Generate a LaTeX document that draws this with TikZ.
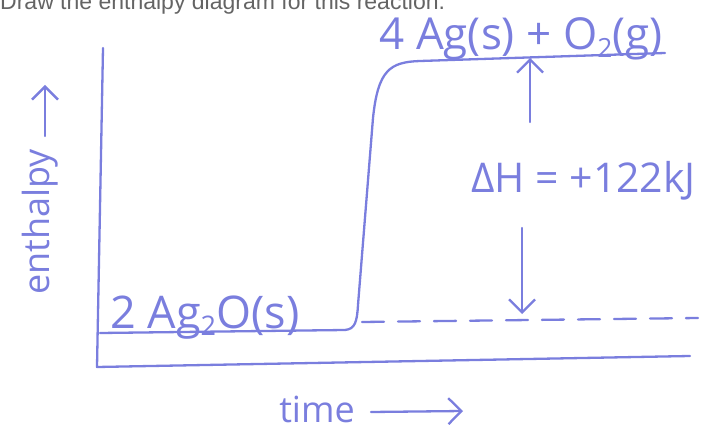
\documentclass[tikz,border=0pt]{standalone}
\usepackage{fontspec}
\setmainfont{Open Sans}
\newfontfamily\printfont{Liberation Sans}
\usetikzlibrary{positioning, arrows.meta}
\definecolor{penblue}{RGB}{122,126,222}
\definecolor{printgray}{RGB}{100,100,100}
\newcommand{\chemsub}[1]{\raisebox{-0.3ex}{\scalebox{0.6}{#1}}}

\begin{document}
\begin{tikzpicture}[x=1pt, y=-1pt,
  pen/.style={draw=penblue, line width=2.3pt, line cap=round, line join=round},
  arr/.style={pen, -{Straight Barb[length=13pt, width=26pt, line width=2.3pt]}},
  hand/.style={text=penblue, inner sep=0pt},
  levelgap/.style={pen, dash pattern=on 22pt off 14pt}
]
\useasboundingbox (0,0) rectangle (716,436);

\node[anchor=base west, text=printgray, inner sep=0pt,
      font=\printfont\fontsize{23}{26}\selectfont] (task) at (0,10)
  {Draw the enthalpy diagram for this reaction.};

\coordinate (ytop) at (103,48);
\coordinate (origin) at (97,367);
\coordinate (xend) at (690,356);
\draw[pen] (ytop) -- (origin) -- (xend);

\coordinate (reac) at (100,333);
\coordinate (prod) at (665,53);
\draw[pen] (reac) -- (345,330) .. controls (355,329) and (357,322) .. (358,305)
  -- (373,118) .. controls (378,70) and (390,62) .. (420,61) -- (prod);

\coordinate (gapstart) at (362,322);
\coordinate (gapend) at (698,318);
\draw[levelgap] (gapstart) -- (gapend);

\node[hand, anchor=base, font=\fontsize{44}{48}\selectfont] (prodlbl) at (521,50)
  {4 Ag(s) + O\chemsub{2}(g)};
\node[hand, anchor=base west, font=\fontsize{45}{48}\selectfont] (reaclbl) at (110,328)
  {2 Ag\chemsub{2}O(s)};
\node[hand, anchor=west, font=\fontsize{41}{44}\selectfont] (dH) at (471,181)
  {ΔH = +122kJ};

\coordinate (uptail) at (530,122);
\coordinate (uphead) at (530,58);
\draw[arr] (uptail) -- (uphead);
\coordinate (downtail) at (522,228);
\coordinate (downhead) at (522,314);
\draw[arr] (downtail) -- (downhead);

\node[hand, rotate=90, font=\fontsize{36}{40}\selectfont] (ylbl) at (40,222) {enthalpy};
\coordinate (ytip) at (45,85);
\draw[arr] (45,136) -- (ytip);

\node[hand, font=\fontsize{36}{40}\selectfont] (xlbl) at (317,409) {time};
\coordinate (xtip) at (463,411);
\draw[arr] (xlbl.east) ++(16,3) coordinate (xtail) -- (xtip);
\end{tikzpicture}
\end{document}
